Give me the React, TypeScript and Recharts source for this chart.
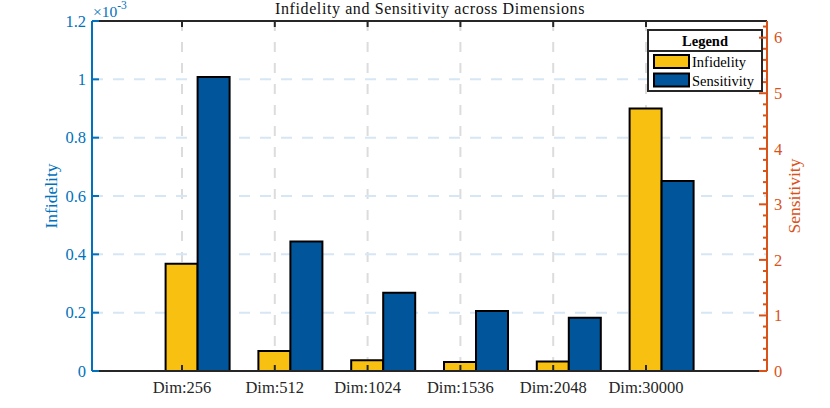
import React from 'react';
import { BarChart, Bar, XAxis, YAxis, CartesianGrid, Customized } from 'recharts';

// ---- data ----
const categories = ['Dim:256', 'Dim:512', 'Dim:1024', 'Dim:1536', 'Dim:2048', 'Dim:30000'];
const infidelity = [0.368e-3, 0.069e-3, 0.037e-3, 0.031e-3, 0.033e-3, 0.9e-3];
const sensitivity = [5.29, 2.33, 1.41, 1.08, 0.96, 3.42];
const seriesNames = ['Infidelity', 'Sensitivity'];
const leftTicks = [0, 0.2e-3, 0.4e-3, 0.6e-3, 0.8e-3, 1.0e-3, 1.2e-3];
const rightMajorTicks = [0, 1, 2, 3, 4, 5, 6];
const rightMax = 6.3;
const title = 'Infidelity and Sensitivity across Dimensions';

const data = categories.map((dim, i) => ({
  dim,
  infidelity: infidelity[i],
  sensitivity: sensitivity[i],
}));

const rightTicks: number[] = [];
for (let i = 0; i * 0.2 <= rightMax; i++) rightTicks.push(Math.round(i * 2) / 10);

// ---- styles ----
const FONT = '"Liberation Serif", "Times New Roman", serif';
const YELLOW = '#F8C112';
const BLUE_BAR = '#01569B';
const LEFT_C = '#0072BD';
const RIGHT_C = '#D95319';
const DARK = '#262626';
const colors = [YELLOW, BLUE_BAR];

const fmtLeft = (v: number) => String(Math.round(v * 1e4) / 10);

const LeftTick = (p: any) => {
  const { x, y, payload } = p;
  return (
    <g>
      <line x1={x} x2={x + 7} y1={y} y2={y} stroke={LEFT_C} strokeWidth={2} />
      <text x={x - 6} y={y} dy="0.35em" textAnchor="end" fill={LEFT_C} fontSize={16.5} fontFamily={FONT}>
        {fmtLeft(payload.value)}
      </text>
    </g>
  );
};

const RightTick = (p: any) => {
  const { x, y, payload } = p;
  const v = payload.value as number;
  const major = rightMajorTicks.some((t) => Math.abs(t - v) < 1e-6);
  return (
    <g>
      <line x1={x} x2={x - (major ? 8 : 4)} y1={y} y2={y} stroke={RIGHT_C} strokeWidth={2} />
      {major && (
        <text x={x + 7} y={y} dy="0.35em" textAnchor="start" fill={RIGHT_C} fontSize={16.5} fontFamily={FONT}>
          {String(v)}
        </text>
      )}
    </g>
  );
};

const BottomTick = (p: any) => {
  const { x, y, payload } = p;
  return (
    <g>
      <line x1={x} x2={x} y1={y} y2={y - 6} stroke={DARK} strokeWidth={2} />
      <text x={x} y={y + 22} textAnchor="middle" fill={DARK} fontSize={16.5} fontFamily={FONT}>
        {payload.value}
      </text>
    </g>
  );
};

const TopTick = (p: any) => {
  const { x, y } = p;
  return <line x1={x} x2={x} y1={y} y2={y + 6} stroke={DARK} strokeWidth={2} />;
};

const Overlay = () => (
  <g fontFamily={FONT}>
    <text x={430} y={14} textAnchor="middle" fontSize={16} letterSpacing={0.6} fill="#111">
      {title}
    </text>
    <text x={93} y={17} fontSize={15.5} fill={LEFT_C}>
      ×10
      <tspan fontSize={11.5} dy={-8}>-3</tspan>
    </text>
    <text
      x={57}
      y={196}
      transform="rotate(-90 57 196)"
      textAnchor="middle"
      fontSize={17.5}
      fill={LEFT_C}
    >
      {seriesNames[0]}
    </text>
    <text
      x={800}
      y={196}
      transform="rotate(-90 800 196)"
      textAnchor="middle"
      fontSize={17.5}
      fill={RIGHT_C}
    >
      {seriesNames[1]}
    </text>
    {/* legend */}
    <rect x={648} y={30} width={114} height={61} fill="#fff" stroke={DARK} strokeWidth={2} />
    <line x1={648} x2={762} y1={51} y2={51} stroke={DARK} strokeWidth={2} />
    <text x={705} y={46} textAnchor="middle" fontWeight="bold" fontSize={14.5} fill="#000">
      Legend
    </text>
    {seriesNames.map((n, i) => (
      <g key={n}>
        <rect x={654} y={55 + i * 18.5} width={35} height={13} fill={colors[i]} stroke="#000" strokeWidth={2} />
        <text x={692} y={67 + i * 18.5} fontSize={14.5} fill="#000">
          {n}
        </text>
      </g>
    ))}
  </g>
);

export default function App() {
  return (
    <div style={{ width: 830, height: 408, background: '#fff' }}>
      <style>{`body{margin:0;}`}</style>
      <BarChart width={830} height={408} data={data} margin={{ top: 0, right: 0, bottom: 0, left: 0 }}>
        <CartesianGrid
          xAxisId="a"
          yAxisId="left"
          horizontal={false}
          stroke="#DCDCDC"
          strokeWidth={2}
          strokeDasharray="10 11"
        />
        <CartesianGrid
          xAxisId="a"
          yAxisId="left"
          vertical={false}
          stroke="#D6E6F4"
          strokeWidth={2}
          strokeDasharray="11 10"
        />
        <Bar
          dataKey="infidelity"
          name={seriesNames[0]}
          xAxisId="a"
          yAxisId="left"
          fill={YELLOW}
          stroke="#000"
          strokeWidth={2}
          barSize={32}
          isAnimationActive={false}
        />
        <Bar
          dataKey="sensitivity"
          name={seriesNames[1]}
          xAxisId="b"
          yAxisId="right"
          fill={BLUE_BAR}
          stroke="#000"
          strokeWidth={2}
          barSize={32}
          isAnimationActive={false}
        />
        <XAxis
          xAxisId="b"
          dataKey="dim"
          hide
          padding={{ left: 75.6, right: 42.6 }}
        />
        <XAxis
          xAxisId="top"
          dataKey="dim"
          orientation="top"
          height={21}
          padding={{ left: 43.6, right: 74.6 }}
          axisLine={{ stroke: DARK, strokeWidth: 2 }}
          tickLine={false}
          tickSize={0}
          tickMargin={0}
          tick={<TopTick />}
          interval={0}
        />
        <XAxis
          xAxisId="a"
          dataKey="dim"
          height={37}
          padding={{ left: 43.6, right: 74.6 }}
          axisLine={{ stroke: DARK, strokeWidth: 2 }}
          tickLine={false}
          tickSize={0}
          tickMargin={0}
          tick={<BottomTick />}
          interval={0}
        />
        <YAxis
          yAxisId="left"
          orientation="left"
          width={92}
          domain={[0, 1.2e-3]}
          ticks={leftTicks}
          interval={0}
          axisLine={{ stroke: LEFT_C, strokeWidth: 2 }}
          tickLine={false}
          tickSize={0}
          tickMargin={0}
          tick={<LeftTick />}
          allowDataOverflow
        />
        <YAxis
          yAxisId="right"
          orientation="right"
          width={63}
          domain={[0, rightMax]}
          ticks={rightTicks}
          interval={0}
          axisLine={{ stroke: RIGHT_C, strokeWidth: 2 }}
          tickLine={false}
          tickSize={0}
          tickMargin={0}
          tick={<RightTick />}
          allowDataOverflow
        />
        <Customized component={Overlay} />
      </BarChart>
    </div>
  );
}
